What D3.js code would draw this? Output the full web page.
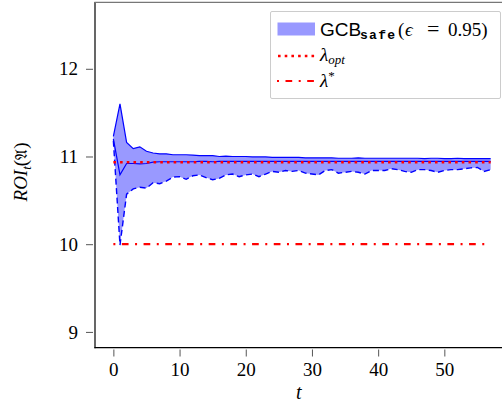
<!DOCTYPE html>
<html>
<head>
<meta charset="utf-8">
<script src="https://cdn.jsdelivr.net/npm/d3@7"></script>
<style>
  body { margin: 0; background: #fff; }
  svg { display: block; }
  .tick text { font-family: "Liberation Serif", "Times New Roman", serif; font-size: 19px; fill: #000; }
</style>
</head>
<body>
<div id="chart"></div>
<script>
// time steps
var steps = d3.range(0, 58);

// upper bound of the band (solid)
var upperVals = [11.23, 11.60, 11.16, 11.09, 11.11, 11.06, 11.04, 11.03, 11.03, 11.02,
                 11.02, 11.02, 11.015, 11.01, 11.01, 11.01, 11.00, 11.005, 11.00, 11.00,
                 11.00, 10.995, 10.995, 10.995, 10.99, 10.99, 10.99, 10.99, 10.99, 10.985,
                 10.985, 10.985, 10.985, 10.985, 10.98, 10.98, 10.98, 10.985, 10.98, 10.98,
                 10.98, 10.98, 10.98, 10.98, 10.98, 10.98, 10.98, 10.975, 10.98, 10.98,
                 10.975, 10.975, 10.98, 10.975, 10.975, 10.975, 10.975, 10.975];

// mean estimate (solid)
var middleVals = [11.20, 10.79, 10.92, 10.92, 10.915, 10.92, 10.935, 10.94, 10.94, 10.94,
                  10.94, 10.94, 10.94, 10.945, 10.945, 10.94, 10.945, 10.945, 10.945, 10.945,
                  10.945, 10.945, 10.945, 10.945, 10.945, 10.945, 10.945, 10.945, 10.945, 10.945,
                  10.945, 10.945, 10.945, 10.945, 10.945, 10.945, 10.945, 10.945, 10.945, 10.945,
                  10.945, 10.945, 10.945, 10.945, 10.945, 10.945, 10.945, 10.945, 10.945, 10.945,
                  10.945, 10.945, 10.945, 10.945, 10.945, 10.945, 10.945, 10.945];

// lower bound of the band (dashed)
var lowerVals = [11.18, 9.99, 10.57, 10.63, 10.65, 10.64, 10.70, 10.69, 10.72, 10.765,
                 10.77, 10.74, 10.78, 10.79, 10.76, 10.735, 10.75, 10.79, 10.80, 10.77,
                 10.79, 10.80, 10.77, 10.80, 10.83, 10.82, 10.84, 10.83, 10.84, 10.81,
                 10.80, 10.79, 10.84, 10.85, 10.81, 10.82, 10.83, 10.82, 10.80, 10.84,
                 10.84, 10.84, 10.86, 10.85, 10.83, 10.82, 10.85, 10.85, 10.84, 10.82,
                 10.84, 10.85, 10.85, 10.86, 10.87, 10.875, 10.83, 10.85];

var lambdaOpt = 10.935;
var lambdaStar = 10.0;

var xTicks = [0, 10, 20, 30, 40, 50];
var yTicks = [9, 10, 11, 12];

var width = 502, height = 408;
var serif = "'Liberation Serif', 'Times New Roman', serif";

var svg = d3.select("#chart").append("svg")
    .attr("width", width)
    .attr("height", height);

var xScale = d3.scaleLinear().domain([-2.85, 58.5]).range([94.5, 500.6]);
var yScale = d3.scaleLinear().domain([8.82, 12.75]).range([347.7, 3]);

var rows = steps.map(function(t, i) {
    return { t: t, hi: upperVals[i], mid: middleVals[i], lo: lowerVals[i] };
});

// band
svg.append("path")
    .datum(rows)
    .attr("fill", "#9999ff")
    .attr("d", d3.area()
        .x(function(d) { return xScale(d.t); })
        .y0(function(d) { return yScale(d.lo); })
        .y1(function(d) { return yScale(d.hi); }));

var line = function(key) {
    return d3.line()
        .x(function(d) { return xScale(d.t); })
        .y(function(d) { return yScale(d[key]); });
};

svg.append("path").datum(rows)
    .attr("fill", "none").attr("stroke", "#0000ff").attr("stroke-width", 1.2)
    .attr("d", line("hi"));
svg.append("path").datum(rows)
    .attr("fill", "none").attr("stroke", "#0000ff").attr("stroke-width", 1.2)
    .attr("d", line("mid"));
svg.append("path").datum(rows)
    .attr("fill", "none").attr("stroke", "#0000ff").attr("stroke-width", 1.4)
    .attr("stroke-dasharray", "6,3.5")
    .attr("d", line("lo"));

// reference lines
var tEnd = steps[steps.length - 1];
svg.append("line")
    .attr("x1", xScale(0)).attr("x2", xScale(tEnd))
    .attr("y1", yScale(lambdaOpt)).attr("y2", yScale(lambdaOpt))
    .attr("stroke", "#ff0000").attr("stroke-width", 2.6)
    .attr("stroke-dasharray", "2.6,4.1");
svg.append("line")
    .attr("x1", xScale(0)).attr("x2", xScale(tEnd))
    .attr("y1", yScale(lambdaStar)).attr("y2", yScale(lambdaStar))
    .attr("stroke", "#ff0000").attr("stroke-width", 2.2)
    .attr("stroke-dasharray", "2,6.5,6.7,6.5");

// axes
var xAxis = d3.axisBottom(xScale).tickValues(xTicks).tickSize(7).tickPadding(6).tickFormat(d3.format("d"));
var gx = svg.append("g").attr("transform", "translate(0,349.5)").call(xAxis);
gx.select(".domain").remove();
gx.selectAll(".tick line").attr("stroke", "#555");

var yAxis = d3.axisLeft(yScale).tickValues(yTicks).tickSize(7).tickPadding(8).tickFormat(d3.format("d"));
var gy = svg.append("g").attr("transform", "translate(93,0)").call(yAxis);
gy.select(".domain").remove();
gy.selectAll(".tick line").attr("stroke", "#555");

// spines
svg.append("line").attr("x1", 95).attr("x2", 95).attr("y1", 2).attr("y2", 348.2)
    .attr("stroke", "#000").attr("stroke-width", 1.2);
svg.append("line").attr("x1", 94.4).attr("x2", 502).attr("y1", 347.7).attr("y2", 347.7)
    .attr("stroke", "#000").attr("stroke-width", 1.2);
svg.append("line").attr("x1", 94.4).attr("x2", 502).attr("y1", 2.4).attr("y2", 2.4)
    .attr("stroke", "#777").attr("stroke-width", 1.4);

// axis labels
svg.append("text")
    .attr("x", xScale(28)).attr("y", 399)
    .attr("text-anchor", "middle")
    .style("font-family", serif).style("font-style", "italic").style("font-size", "20px")
    .text("t");

var ylab = svg.append("text")
    .attr("transform", "translate(27,172) rotate(-90)")
    .attr("text-anchor", "middle")
    .style("font-family", serif).style("font-size", "19px");
ylab.append("tspan").style("font-style", "italic").text("ROI");
ylab.append("tspan").style("font-style", "italic").style("font-size", "13px").attr("dy", 4).text("t");
ylab.append("tspan").attr("dy", -4).text("(");
ylab.append("tspan").style("font-family", "'DejaVu Serif', 'DejaVu Sans', serif").style("font-size", "16px").text("\uD835\uDD04");
ylab.append("tspan").text(")");

// legend
var lg = svg.append("g");
lg.append("rect")
    .attr("x", 270.5).attr("y", 11.5).attr("width", 230).attr("height", 87)
    .attr("rx", 1.5)
    .attr("fill", "#fff").attr("fill-opacity", 0.85)
    .attr("stroke", "#cccccc").attr("stroke-width", 1);

lg.append("rect").attr("x", 277.5).attr("y", 22.5).attr("width", 37.5).attr("height", 13)
    .attr("fill", "#9999ff");
lg.append("line").attr("x1", 278).attr("x2", 315).attr("y1", 56).attr("y2", 56)
    .attr("stroke", "#ff0000").attr("stroke-width", 2.6).attr("stroke-dasharray", "2.6,4.1");
lg.append("line").attr("x1", 277).attr("x2", 315).attr("y1", 81).attr("y2", 81)
    .attr("stroke", "#ff0000").attr("stroke-width", 2.2).attr("stroke-dasharray", "2,6.5,6.7,6.5");

var t1 = lg.append("text").attr("x", 320).attr("y", 36);
t1.append("tspan").style("font-family", "'Liberation Sans', Arial, sans-serif").style("font-size", "19px").text("GCB");
t1.append("tspan").attr("x", 360).attr("dy", 3)
    .style("font-family", "'Liberation Mono', 'DejaVu Sans Mono', monospace").style("font-weight", "bold")
    .style("font-size", "13px").style("letter-spacing", "1.3px").text("safe");
t1.append("tspan").attr("x", 398).attr("dy", -3).style("font-family", serif).style("font-size", "19px").text("(");
t1.append("tspan").attr("x", 405).style("font-family", serif).style("font-style", "italic").style("font-size", "19px").text("\u03F5");
t1.append("tspan").attr("x", 427).style("font-family", serif).style("font-size", "22px").text("=");
t1.append("tspan").attr("x", 448).style("font-family", serif).style("font-size", "19px").text("0.95)");

var t2 = lg.append("text").attr("x", 320).attr("y", 61)
    .style("font-family", serif).style("font-style", "italic");
t2.append("tspan").style("font-size", "19px").text("\u03BB");
t2.append("tspan").style("font-size", "13px").attr("dy", 3).text("opt");

var t3 = lg.append("text").attr("x", 320).attr("y", 87)
    .style("font-family", serif).style("font-style", "italic");
t3.append("tspan").style("font-size", "19px").text("\u03BB");
t3.append("tspan").style("font-size", "13px").attr("dy", -7).style("font-style", "normal").text("*");
</script>
</body>
</html>
